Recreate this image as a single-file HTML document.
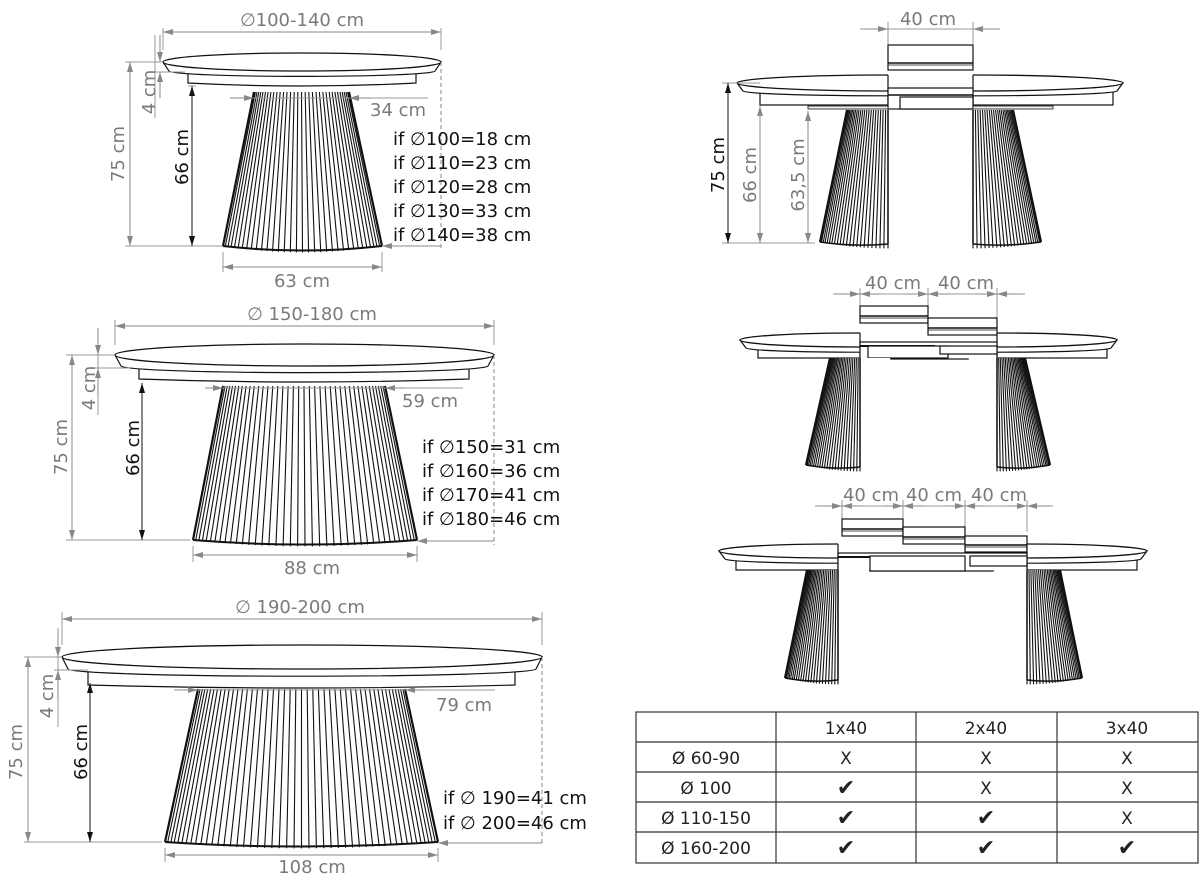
<!DOCTYPE html>
<html><head><meta charset="utf-8">
<style>
html,body{margin:0;padding:0;background:#fff}
svg{display:block}
.t{font-family:"DejaVu Sans","Liberation Sans",sans-serif;font-size:18px;fill:#7a7a7a}
.k{fill:#111}
.tb{font-family:"DejaVu Sans","Liberation Sans",sans-serif;font-size:17px;fill:#222;text-anchor:middle}
</style></head>
<body>
<svg id="s" width="1200" height="884" viewBox="0 0 1200 884" xmlns="http://www.w3.org/2000/svg">
<defs>
<marker id="a" viewBox="0 0 10 6" refX="10" refY="3" markerWidth="12" markerHeight="6" orient="auto-start-reverse" markerUnits="userSpaceOnUse"><path d="M0,0L10,3L0,6z" fill="#888"/></marker>
<marker id="ak" viewBox="0 0 10 6" refX="10" refY="3" markerWidth="10" markerHeight="6" orient="auto-start-reverse" markerUnits="userSpaceOnUse"><path d="M0,0L10,3L0,6z" fill="#111"/></marker>
</defs>
<g id="g"></g>

<text class="t" x="302" y="26" text-anchor="middle">∅100-140 cm</text>
<text class="t" x="370" y="116">34 cm</text>
<text class="t" x="302" y="287" text-anchor="middle">63 cm</text>
<text class="t" transform="translate(124,154) rotate(-90)" text-anchor="middle">75 cm</text>
<text class="t" transform="translate(155,92) rotate(-90)" text-anchor="middle">4 cm</text>
<text class="t k" transform="translate(188,157) rotate(-90)" text-anchor="middle">66 cm</text>
<text class="t k" x="393" y="145">if ∅100=18 cm</text>
<text class="t k" x="393" y="169">if ∅110=23 cm</text>
<text class="t k" x="393" y="193">if ∅120=28 cm</text>
<text class="t k" x="393" y="217">if ∅130=33 cm</text>
<text class="t k" x="393" y="241">if ∅140=38 cm</text>

<text class="t" x="312" y="320" text-anchor="middle">∅ 150-180 cm</text>
<text class="t" x="402" y="407">59 cm</text>
<text class="t" x="312" y="574" text-anchor="middle">88 cm</text>
<text class="t" transform="translate(67,447) rotate(-90)" text-anchor="middle">75 cm</text>
<text class="t" transform="translate(95,388) rotate(-90)" text-anchor="middle">4 cm</text>
<text class="t k" transform="translate(139,448) rotate(-90)" text-anchor="middle">66 cm</text>
<text class="t k" x="422" y="453">if ∅150=31 cm</text>
<text class="t k" x="422" y="477">if ∅160=36 cm</text>
<text class="t k" x="422" y="501">if ∅170=41 cm</text>
<text class="t k" x="422" y="525">if ∅180=46 cm</text>

<text class="t" x="300" y="613" text-anchor="middle">∅ 190-200 cm</text>
<text class="t" x="436" y="711">79 cm</text>
<text class="t" x="312" y="873" text-anchor="middle">108 cm</text>
<text class="t" transform="translate(22,752) rotate(-90)" text-anchor="middle">75 cm</text>
<text class="t" transform="translate(53,696) rotate(-90)" text-anchor="middle">4 cm</text>
<text class="t k" transform="translate(87,752) rotate(-90)" text-anchor="middle">66 cm</text>
<text class="t k" x="443" y="804">if ∅ 190=41 cm</text>
<text class="t k" x="443" y="829">if ∅ 200=46 cm</text>

<text class="t" x="928" y="25" text-anchor="middle">40 cm</text>
<text class="t k" transform="translate(724,165) rotate(-90)" text-anchor="middle">75 cm</text>
<text class="t" transform="translate(756,175) rotate(-90)" text-anchor="middle">66 cm</text>
<text class="t" transform="translate(804,175) rotate(-90)" text-anchor="middle">63,5 cm</text>
<text class="t" x="893" y="289" text-anchor="middle">40 cm</text>
<text class="t" x="966" y="289" text-anchor="middle">40 cm</text>
<text class="t" x="871" y="501" text-anchor="middle">40 cm</text>
<text class="t" x="934" y="501" text-anchor="middle">40 cm</text>
<text class="t" x="999" y="501" text-anchor="middle">40 cm</text>

<g stroke="#333" stroke-width="1.2" fill="none">
<rect x="636" y="712" width="562" height="151"/>
<line x1="776" y1="712" x2="776" y2="863"/><line x1="916" y1="712" x2="916" y2="863"/><line x1="1057" y1="712" x2="1057" y2="863"/>
<line x1="636" y1="742" x2="1198" y2="742"/><line x1="636" y1="772" x2="1198" y2="772"/><line x1="636" y1="802" x2="1198" y2="802"/><line x1="636" y1="832" x2="1198" y2="832"/>
</g>
<text class="tb" x="846" y="734">1x40</text><text class="tb" x="986" y="734">2x40</text><text class="tb" x="1127" y="734">3x40</text>
<text class="tb" x="706" y="764">Ø 60-90</text><text class="tb" x="846" y="764">X</text><text class="tb" x="986" y="764">X</text><text class="tb" x="1127" y="764">X</text>
<text class="tb" x="706" y="794">Ø 100</text><text class="tb" x="846" y="795" style="font-size:22px">✔</text><text class="tb" x="986" y="794">X</text><text class="tb" x="1127" y="794">X</text>
<text class="tb" x="706" y="824">Ø 110-150</text><text class="tb" x="846" y="825" style="font-size:22px">✔</text><text class="tb" x="986" y="825" style="font-size:22px">✔</text><text class="tb" x="1127" y="824">X</text>
<text class="tb" x="706" y="854">Ø 160-200</text><text class="tb" x="846" y="855" style="font-size:22px">✔</text><text class="tb" x="986" y="855" style="font-size:22px">✔</text><text class="tb" x="1127" y="855" style="font-size:22px">✔</text>
</svg>
<script>
(function(){
var g=document.getElementById('g'),h='',cid=0;
function L(x1,y1,x2,y2,c,w,extra){h+='<line x1="'+x1+'" y1="'+y1+'" x2="'+x2+'" y2="'+y2+'" stroke="'+(c||'#111')+'" stroke-width="'+(w||1)+'" '+(extra||'')+'/>';}
function P(d,f,w){h+='<path d="'+d+'" fill="'+(f||'none')+'" stroke="#111" stroke-width="'+(w||1.2)+'"/>';}
function R(x,y,w,hh){h+='<rect x="'+x+'" y="'+y+'" width="'+w+'" height="'+hh+'" fill="#fff" stroke="#111" stroke-width="1.2"/>';}
function dim(x1,y1,x2,y2,k){L(x1,y1,x2,y2,k?'#111':'#888',1,'marker-start="url(#'+(k?'ak':'a')+')" marker-end="url(#'+(k?'ak':'a')+')"');}
function gl(x1,y1,x2,y2){L(x1,y1,x2,y2,'#999',1);}
function tTop(x1,x2,pk,ed,sb){
 var rx=(x2-x1)/2, ry=ed-pk;
 // rim/underside
 P('M'+x1+','+ed+' L'+(x1+6)+','+(sb-3)+' A'+(rx-6)+','+(ry*0.6)+' 0 0 0 '+(x2-6)+','+(sb-3)+' L'+x2+','+ed+' Z','#fff');
 // top surface ellipse
 h+='<ellipse cx="'+(x1+rx)+'" cy="'+ed+'" rx="'+rx+'" ry="'+ry+'" fill="#fff" stroke="#111" stroke-width="1.3"/>';
}
function cone(xl,xr,yt,bl,br,yb,n,t0,t1){
 var d='M'+xl+','+yt+' L'+xr+','+yt+' L'+br+','+yb+' Q'+((bl+br)/2)+','+(yb+8)+' '+bl+','+yb+' Z';
 h+='<path d="'+d+'" fill="#fff" stroke="none"/>';
 for(var i=0;i<=n;i++){var u=i/n;var t=t0+(t1-t0)*u;var s=0.45*t+0.55*(1-Math.cos(Math.PI*t))/2;
  var xt=xl+(xr-xl)*s, xb=bl+(br-bl)*s;
  var yy=yb+8*4*s*(1-s)*0.8; L(xt.toFixed(1),yt,xb.toFixed(1),yy.toFixed(1),'#111',1.1);}
}
function fullTable(x1,x2,pk,ed,sb,ax1,ax2,ay2,ct,cl,cr,cb,bl,br,n){
 P('M'+ax1+','+(sb-2)+' L'+ax1+','+(ay2-3)+' Q'+((ax1+ax2)/2)+','+(ay2+3)+' '+ax2+','+(ay2-3)+' L'+ax2+','+(sb-2)+' Z','#fff');
 tTop(x1,x2,pk,ed,sb);
 cone(cl,cr,ct,bl,br,cb,n,0,1);
 P('M'+cl+','+ct+' L'+bl+','+cb,'none',2.2);P('M'+cr+','+ct+' L'+br+','+cb,'none',2.2);
 P('M'+bl+','+cb+' Q'+((bl+br)/2)+','+(cb+9)+' '+br+','+cb,'none',2);
}
gl(163,28,163,50);gl(441,28,441,50);dim(163,32,441,32);
fullTable(163,441,53,62,74,188,416,86,92,254,349,246,223,382,34);
gl(125,62,163,62);gl(125,246,222,246);dim(130,62,130,246);
gl(155,35,155,118);L(160,35,160,62,'#888',1,'marker-end="url(#a)"');L(160,98,160,72,'#888',1,'marker-end="url(#a)"');gl(152,72,185,72);
dim(192,86,192,246,1);gl(188,86,196,86);
gl(230,98,428,98);L(230,98,254,98,'#888',1,'marker-end="url(#a)"');L(372,98,349,98,'#888',1,'marker-end="url(#a)"');
h+='<line x1="441" y1="62" x2="441" y2="248" stroke="#888" stroke-dasharray="4,3"/>';
L(441,246,382,246,'#888',1,'marker-end="url(#a)"');
gl(223,252,223,272);gl(382,252,382,272);dim(223,267,382,267);
gl(115,320,115,345);gl(494,320,494,345);dim(115,326,494,326);
fullTable(115,494,344,355,369,139,469,382,386,223,385,540,193,417,40);
gl(66,355,115,355);gl(66,540,190,540);dim(72,355,72,540);
gl(98,328,98,415);L(98,328,98,355,'#888',1,'marker-end="url(#a)"');L(98,395,98,368,'#888',1,'marker-end="url(#a)"');gl(94,368,130,368);
dim(142,383,142,540,1);
gl(213,388,463,388);L(205,388,223,388,'#888',1,'marker-end="url(#a)"');L(405,388,385,388,'#888',1,'marker-end="url(#a)"');
h+='<line x1="494" y1="355" x2="494" y2="545" stroke="#888" stroke-dasharray="4,3"/>';
L(494,541,417,541,'#888',1,'marker-end="url(#a)"');
gl(193,546,193,562);gl(417,546,417,562);dim(193,555,417,555);
gl(62,612,62,645);gl(542,612,542,645);dim(62,619,542,619);
fullTable(62,542,645,657,672,88,515,688,689,198,405,842,165,438,48);
gl(24,657,62,657);gl(24,842,162,842);dim(28,657,28,842);
gl(58,628,58,727);L(58,630,58,657,'#888',1,'marker-end="url(#a)"');L(58,700,58,670,'#888',1,'marker-end="url(#a)"');gl(54,670,88,670);
dim(90,683,90,842,1);
gl(174,690,495,690);L(178,690,198,690,'#888',1,'marker-end="url(#a)"');L(425,690,405,690,'#888',1,'marker-end="url(#a)"');
h+='<line x1="542" y1="657" x2="542" y2="845" stroke="#888" stroke-dasharray="4,3"/>';
L(542,843,438,843,'#888',1,'marker-end="url(#a)"');
gl(165,848,165,862);gl(438,848,438,862);dim(165,855,438,855);

function halfTop(x1,x2,pk,ed,left){
 var id='c'+(cid++), w=Math.abs(x2-x1);
 var cx=left?x1:x2-2*w, cw=left?w:w;
 h+='<clipPath id="'+id+'"><rect x="'+(left?x1-5:x1)+'" y="'+(pk-5)+'" width="'+(w+5)+'" height="40"/></clipPath><g clip-path="url(#'+id+')">';
 if(left) tTop(x1,x1+2*w,pk,ed,ed+11); else tTop(x2-2*w,x2,pk,ed,ed+11);
 h+='</g>';
 var xe=left?x2:x1; L(xe,pk,xe,ed+10,'#111',1.2);
}
function block(x1,x2,y1,y2){R(x1,y1,x2-x1,y2-y1);L(x1,y2-7,x2,y2-7,'#111',1.5);L(x1,y2-5,x2,y2-5,'#111',0.8);}
function leg(inner,outerT,outerB,yt,yb,left){
 if(left){var cr=inner+(inner-outerT), br=inner+(inner-outerB);cone(outerT,cr,yt,outerB,br,yb,22,0,0.5);P('M'+outerT+','+yt+' L'+outerB+','+yb,'none',2.2);L(inner,yt,inner,yb+2,'#111',1.5);P('M'+outerB+','+yb+' Q'+((outerB+inner)/2)+','+(yb+5)+' '+inner+','+(yb+2),'none',1.5);}
 else{var cl=inner-(outerT-inner), bl=inner-(outerB-inner);cone(cl,outerT,yt,bl,outerB,yb,22,0.5,1);P('M'+outerT+','+yt+' L'+outerB+','+yb,'none',2.2);L(inner,yt,inner,yb+2,'#111',1.5);P('M'+inner+','+(yb+2)+' Q'+((outerB+inner)/2)+','+(yb+5)+' '+outerB+','+yb,'none',1.5);}
}
gl(860,29,1000,29);gl(888,22,888,44);gl(973,22,973,44);L(862,29,888,29,'#888',1,'marker-end="url(#a)"');L(1000,29,973,29,'#888',1,'marker-end="url(#a)"');
block(888,973,45,70);
R(760,90,128,15);R(973,90,140,15);
halfTop(737,888,75,83,1);halfTop(973,1123,75,83,0);
R(888,88,85,21);L(888,95,973,95,'#111',1.5);R(900,97,73,12);
h+='<rect x="808" y="106" width="80" height="3" fill="#eee" stroke="#111" stroke-width="0.8"/><rect x="973" y="106" width="80" height="3" fill="#eee" stroke="#111" stroke-width="0.8"/>';
leg(888,847,820,110,242,1);leg(973,1013,1041,110,242,0);
gl(722,83,760,83);gl(722,243,815,243);dim(728,83,728,243,1);dim(760,106,760,243);dim(808,111,808,243);
gl(833,294,1025,294);gl(860,288,860,306);gl(928,288,928,306);gl(997,288,997,330);
L(835,294,860,294,'#888',1,'marker-end="url(#a)"');L(880,294,860,294,'#888',1,'marker-end="url(#a)"');L(906,294,928,294,'#888',1,'marker-end="url(#a)"');L(950,294,928,294,'#888',1,'marker-end="url(#a)"');L(975,294,997,294,'#888',1,'marker-end="url(#a)"');L(1022,294,997,294,'#888',1,'marker-end="url(#a)"');
block(860,928,306,323);block(928,997,318,335);
R(758,346,102,12);R(997,346,110,12);
halfTop(740,860,333,340,1);halfTop(997,1117,333,340,0);
R(860,342,137,17);L(860,346,935,346,'#111',2);R(868,346,80,12);R(940,346,57,8);
leg(860,830,806,358,465,1);leg(997,1025,1050,358,465,0);
gl(815,506,1053,506);gl(842,500,842,519);gl(903,500,903,527);gl(965,500,965,536);gl(1027,500,1027,532);
L(818,506,842,506,'#888',1,'marker-end="url(#a)"');L(862,506,842,506,'#888',1,'marker-end="url(#a)"');L(883,506,903,506,'#888',1,'marker-end="url(#a)"');L(923,506,903,506,'#888',1,'marker-end="url(#a)"');L(945,506,965,506,'#888',1,'marker-end="url(#a)"');L(985,506,965,506,'#888',1,'marker-end="url(#a)"');L(1007,506,1027,506,'#888',1,'marker-end="url(#a)"');L(1050,506,1027,506,'#888',1,'marker-end="url(#a)"');
block(842,903,519,536);block(903,965,527,544);block(965,1027,536,552);
R(736,557,102,13);R(1027,557,110,13);
halfTop(719,838,544,551,1);halfTop(1027,1147,544,551,0);
R(838,553,189,18);L(838,557,895,557,'#111',2);R(870,556,95,15);R(970,556,57,10);
leg(838,807,785,570,678,1);leg(1027,1060,1082,570,678,0);
g.innerHTML=h;
})();
</script>
</body></html>
